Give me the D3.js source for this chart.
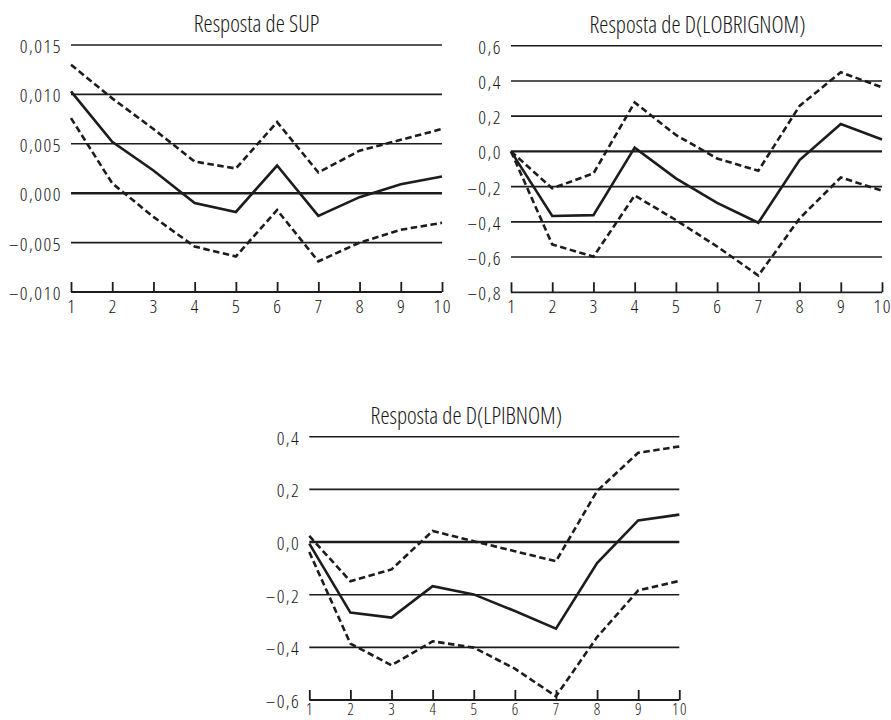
<!DOCTYPE html>
<html>
<head>
<meta charset="utf-8">
<script src="https://cdn.jsdelivr.net/npm/d3@7"></script>
<style>
  html, body { margin: 0; padding: 0; background: #fff; }
  svg { display: block; }
  text { font-family: "Open Sans", "Noto Sans", sans-serif; font-stretch: 75%; font-weight: 300; fill: #151515; }
</style>
</head>
<body>
<svg id="chart" width="891" height="720"></svg>
<script>
// ---------- data ----------
const periods = [1, 2, 3, 4, 5, 6, 7, 8, 9, 10];

const supTitle = "Resposta de SUP";
const supTicks = [-0.010, -0.005, 0.000, 0.005, 0.010, 0.015];
const supMid   = [0.0103, 0.0052, 0.0023, -0.0010, -0.0019, 0.0028, -0.0023, -0.0004, 0.0009, 0.0017];
const supUpper = [0.0130, 0.0096, 0.0065, 0.0032, 0.0025, 0.0072, 0.0021, 0.0043, 0.0054, 0.0065];
const supLower = [0.0076, 0.0010, -0.0024, -0.0054, -0.0064, -0.0017, -0.0069, -0.0050, -0.0037, -0.0030];

const obrTitle = "Resposta de D(LOBRIGNOM)";
const obrTicks = [-0.8, -0.6, -0.4, -0.2, 0.0, 0.2, 0.4, 0.6];
const obrMid   = [0.000, -0.367, -0.362, 0.021, -0.153, -0.292, -0.405, -0.049, 0.155, 0.068];
const obrUpper = [0.000, -0.210, -0.125, 0.278, 0.093, -0.040, -0.110, 0.258, 0.449, 0.364];
const obrLower = [0.000, -0.528, -0.598, -0.250, -0.390, -0.540, -0.705, -0.381, -0.148, -0.223];

const pibTitle = "Resposta de D(LPIBNOM)";
const pibTicks = [-0.6, -0.4, -0.2, 0.0, 0.2, 0.4];
const pibMid   = [-0.006, -0.268, -0.287, -0.168, -0.199, -0.262, -0.329, -0.080, 0.082, 0.104];
const pibUpper = [0.023, -0.149, -0.104, 0.042, 0.003, -0.035, -0.073, 0.194, 0.339, 0.363];
const pibLower = [-0.038, -0.386, -0.468, -0.377, -0.401, -0.481, -0.586, -0.361, -0.184, -0.148];

// ---------- drawing ----------
const svg = d3.select("#chart");
const ink = "#1c1c1c";

function fmt(decimals) {
  return v => {
    const s = Math.abs(v).toFixed(decimals).replace(".", ",");
    return (v < -1e-9 ? "\u2013" : "") + s;
  };
}

function panel(cfg) {
  const x = d3.scaleLinear().domain([1, 10]).range([cfg.x0, cfg.x1]);
  const y = d3.scaleLinear().domain([cfg.ticks[0], cfg.ticks[cfg.ticks.length - 1]]).range([cfg.y0, cfg.y1]);
  const g = svg.append("g");
  const f = fmt(cfg.decimals);

  g.append("text")
    .attr("x", (cfg.x0 + cfg.x1) / 2 + cfg.titleDx)
    .attr("y", cfg.y1 - 13)
    .attr("text-anchor", "middle")
    .style("font-size", "23px")
    .text(cfg.title);

  g.selectAll("line.grid")
    .data(cfg.ticks.slice(1))
    .join("line")
    .attr("class", "grid")
    .attr("x1", x(1)).attr("x2", x(10))
    .attr("y1", d => y(d)).attr("y2", d => y(d))
    .attr("stroke", ink)
    .attr("stroke-width", d => Math.abs(d) < 1e-9 ? 2.4 : 1.6);

  g.selectAll("text.ylab")
    .data(cfg.ticks)
    .join("text")
    .attr("class", "ylab")
    .attr("x", x(1) - 9)
    .attr("y", d => y(d) + 8)
    .attr("text-anchor", "end")
    .style("font-size", "19px")
    .style("letter-spacing", "1.5px")
    .text(d => f(d));

  const axis = d3.axisTop(x).tickValues(periods).tickSize(10).tickFormat("");
  const ag = g.append("g").attr("transform", `translate(0,${y(cfg.ticks[0])})`).call(axis);
  ag.select(".domain").attr("d", `M${x(1)},0H${x(10)}`).attr("stroke", ink).attr("stroke-width", 1.8);
  ag.selectAll(".tick line").attr("stroke", ink).attr("stroke-width", 1.8);

  g.selectAll("text.xlab")
    .data(periods)
    .join("text")
    .attr("class", "xlab")
    .attr("x", d => x(d) + 0.8)
    .attr("y", Math.min(y(cfg.ticks[0]) + 21, 715))
    .attr("text-anchor", "middle")
    .style("font-size", cfg.xlabSize)
    .style("letter-spacing", "1.5px")
    .text(d => d);

  const line = d3.line().x((d, i) => x(periods[i])).y(d => y(d));
  [cfg.upper, cfg.lower].forEach(s => {
    g.append("path").datum(s).attr("d", line)
      .attr("fill", "none").attr("stroke", ink).attr("stroke-width", 2.6)
      .attr("stroke-dasharray", "6.5,3.5");
  });
  g.append("path").datum(cfg.mid).attr("d", line)
    .attr("fill", "none").attr("stroke", ink).attr("stroke-width", 2.6);
}

panel({ title: supTitle, ticks: supTicks, decimals: 3, mid: supMid, upper: supUpper, lower: supLower,
        x0: 71, x1: 442, y0: 292, y1: 45, titleDx: 0, xlabSize: "19px" });
panel({ title: obrTitle, ticks: obrTicks, decimals: 1, mid: obrMid, upper: obrUpper, lower: obrLower,
        x0: 511, x1: 882, y0: 292.3, y1: 45.7, titleDx: 1, xlabSize: "19px" });
panel({ title: pibTitle, ticks: pibTicks, decimals: 1, mid: pibMid, upper: pibUpper, lower: pibLower,
        x0: 309.3, x1: 679.3, y0: 700, y1: 436.7, titleDx: -28, xlabSize: "16px" });
</script>
</body>
</html>
